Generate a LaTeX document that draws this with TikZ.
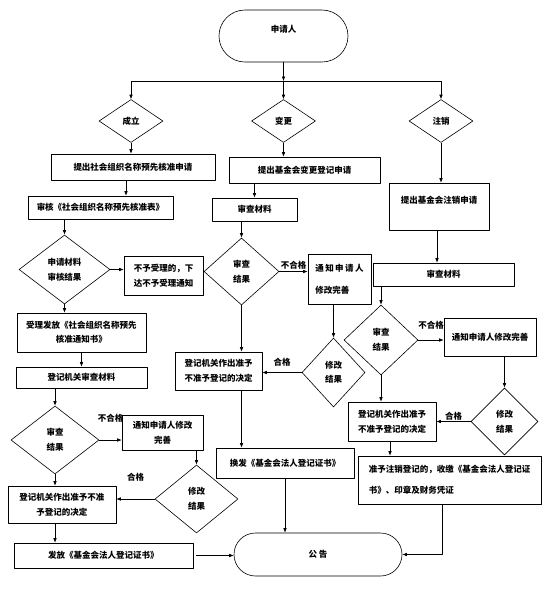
\documentclass[tikz,border=0pt]{standalone}
\usepackage{fontspec}
\setmainfont{Noto Sans CJK SC}
\usetikzlibrary{shapes.geometric,shapes.misc,arrows.meta}

\begin{document}
\begin{tikzpicture}[x=1pt,y=-1pt,line width=.6pt,join=round,
        font=\fontsize{8.5}{15}\selectfont\bfseries,
        box/.style={draw,rectangle,inner sep=1pt,align=center},
        dia/.style={draw,diamond,inner sep=0pt,align=center},
        term/.style={draw,rounded rectangle,inner sep=1pt},
        arr/.style={-{Latex[length=4.5pt,width=3.6pt]}},
        lbl/.style={inner sep=1pt}] % 基金会登记流程
        \useasboundingbox (0,0) rectangle (546,598);
        % top
        \node[term,minimum width=131pt,minimum height=52pt,text depth=14.5pt] (app) at (283.5,36) {申请人};
        \coordinate (split) at (283.5,81);
        \node[dia,minimum width=64pt,minimum height=43pt] (dNew) at (131,121) {成立};
        \node[dia,minimum width=64pt,minimum height=43pt] (dChg) at (283.5,121) {变更};
        \node[dia,minimum width=64pt,minimum height=43pt] (dDel) at (441,121) {注销};
        % left column
        \node[box,minimum width=164pt,minimum height=26pt] (bL1) at (133,167) {提出社会组织名称预先核准申请};
        \node[box,minimum width=145pt,minimum height=23pt] (bL2) at (100.5,207.5) {审核《社会组织名称预先核准表》};
        \node[dia,minimum width=91pt,minimum height=69pt] (dL1) at (64.5,269.5) {申请材料\\审核结果};
        \node[box,minimum width=79pt,minimum height=39pt,align=left] (bL3) at (163.5,275.5) {不予受理的，下\\达不予受理通知};
        \node[box,minimum width=129pt,minimum height=39pt] (bL4) at (81.5,332.5) {受理发放《社会组织名称预先\\[-1pt]核准通知书》};
        \node[box,minimum width=131pt,minimum height=21pt] (bL5) at (81.5,377.5) {登记机关审查材料};
        \node[dia,minimum width=88pt,minimum height=68pt] (dL2) at (55,440) {审查\\结果};
        \node[box,minimum width=81pt,minimum height=35pt] (bL6) at (162.5,432.5) {通知申请人修改\\完善};
        \node[dia,minimum width=83pt,minimum height=68pt] (dL3) at (196.5,499) {修改\\结果};
        \node[box,minimum width=108pt,minimum height=37pt] (bL7) at (62,504.5) {登记机关作出准予不准\\予登记的决定};
        \node[box,minimum width=179pt,minimum height=25pt] (bL8) at (103.5,555.5) {发放《基金会法人登记证书》};
        \node[term,minimum width=170pt,minimum height=43pt] (notice) at (318,554.5) {公 告};
        % middle column
        \node[box,minimum width=151pt,minimum height=26pt] (bM1) at (304.5,170) {提出基金会变更登记申请};
        \node[box,minimum width=85pt,minimum height=23pt] (bM2) at (254.5,209.5) {审查材料};
        \node[dia,minimum width=75pt,minimum height=67pt] (dM1) at (241.5,271.5) {审查\\结果};
        \node[box,minimum width=63pt,minimum height=50pt,align=left] (bM3) at (339.5,279) {通\,知\,申\,请\,人\\[7pt]修改完善};
        \node[dia,minimum width=63pt,minimum height=69pt] (dM2) at (333.5,372.5) {修改\\[-1pt]结果};
        \node[box,minimum width=87pt,minimum height=38pt] (bM4) at (218.5,371) {登记机关作出准予\\不准予登记的决定};
        \node[box,minimum width=138pt,minimum height=30pt] (bM5) at (285,463) {换发《基金会法人登记证书》};
        % right column
        \node[box,minimum width=100pt,minimum height=47pt,text depth=14pt] (bR1) at (439,206.5) {提出基金会注销申请};
        \node[box,minimum width=141pt,minimum height=23pt] (bR2) at (443.5,274.5) {审查材料};
        \node[dia,minimum width=74pt,minimum height=70pt] (dR1) at (381,340) {审查\\结果};
        \node[box,minimum width=92pt,minimum height=38pt] (bR3) at (490,337) {通知申请人修改完善};
        \node[dia,minimum width=67pt,minimum height=67pt] (dR2) at (504.5,421.5) {修改\\结果};
        \node[box,minimum width=88pt,minimum height=39pt,align=left] (bR4) at (392,421.5) {登记机关作出准予\\不准予登记的决定};
        \node[box,minimum width=183pt,minimum height=48pt,align=left] (bR5) at (449.5,480) {准予注销登记的，收缴《基金会法人登记证\\[6pt]书》、印章及财务凭证};
        % fork
        \draw[arr] (app) -- (split);
        \draw (split -| dNew) -- (split -| dDel);
        \draw[arr] (split -| dNew) -- (dNew.north);
        \draw[arr] (split) -- (dChg.north);
        \draw[arr] (split -| dDel) -- (dDel.north);
        % left connectors
        \draw[arr] (dNew.south) -- (dNew.south |- bL1.north);
        \draw[arr] ([xshift=-7pt]bL1.south) -- ([xshift=-7pt]bL1.south |- bL2.north);
        \draw[arr] (bL2.south -| dL1) -- (dL1.north);
        \draw[arr] (dL1.east) -- (dL1.east -| bL3.west);
        \draw[arr] (dL1.south) -- (dL1.south |- bL4.north);
        \draw[arr] (bL4.south) -- (bL5.north);
        \draw[arr] (bL5.south -| dL2) -- (dL2.north);
        \draw[arr] (dL2.east) -- node[lbl,above=16pt] (tL1) {不合格} (dL2.east -| bL6.west);
        \draw[arr] (bL6.south -| dL3) -- (dL3.north);
        \draw[arr] (dL3.west) -- node[lbl,above=16pt] (tL2) {合格} (dL3.west -| bL7.east);
        \draw[arr] (dL2.south) -- (dL2.south |- bL7.north);
        \draw[arr] (bL7.south -| dL2) -- (dL2 |- bL8.north);
        \draw[arr,shorten <=3pt] (bL8.east) -- (bL8.east -| notice.west);
        % middle connectors
        \draw[arr] (dChg.south) -- (dChg.south |- bM1.north);
        \draw[arr] (bM1.south -| bM2) -- (bM2.north);
        \draw[arr] (bM2.south -| dM1) -- (dM1.north);
        \draw[arr] (dM1.east) -- node[lbl,above=1pt] (tM1) {不合格} (dM1.east -| bM3.west);
        \draw[arr] (bM3.south -| dM2) -- (dM2.north);
        \draw[arr] (dM2.west) -- node[lbl,above=5pt] (tM2) {合格} (dM2.west -| bM4.east);
        \draw[arr] (dM1.south) -- (dM1.south |- bM4.north);
        \draw[arr] (bM4.south -| dM1) -- (dM1 |- bM5.north);
        \draw[arr] (bM5.south) -- (bM5.south |- notice.north);
        % right connectors
        \draw[arr] (dDel.south) -- (dDel.south |- bR1.north);
        \draw[arr] ([xshift=-2pt]bR1.south) -- ([xshift=-2pt]bR1.south |- bR2.north);
        \draw[arr] (bR2.south -| dR1) -- (dR1.north);
        \draw[arr] (dR1.east) -- node[lbl,above=9pt] (tR1) {不合格} (dR1.east -| bR3.west);
        \draw[arr] (bR3.south -| dR2) -- (dR2.north);
        \draw[arr] (dR2.west) -- node[lbl,above] (tR2) {合格} (dR2.west -| bR4.east);
        \draw[arr] (dR1.south) -- (dR1.south |- bR4.north);
        \draw[arr] ([xshift=-2pt]bR4.south) -- ([xshift=-2pt]bR4.south |- bR5.north);
        \draw[arr] ([xshift=-7.5pt]bR5.south) |- (notice.east);
\end{tikzpicture}
\end{document}
